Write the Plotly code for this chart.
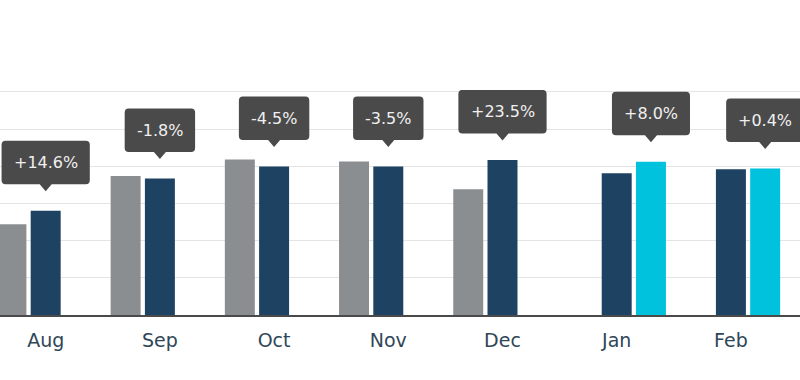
import plotly.graph_objects as go

# ---- data ----
months = ["Aug", "Sep", "Oct", "Nov", "Dec", "Jan", "Feb"]
prior_year = [244, 374, 418, 413, 338, None, None]      # grey bars
current_year = [280, 367, 399, 399, 417, 381, 392]      # navy bars
new_year = [None, None, None, None, None, 412, 394]     # cyan bars
changes = ["+14.6%", "-1.8%", "-4.5%", "-3.5%", "+23.5%", "+8.0%", "+0.4%"]

# ---- style ----
GREY = "#8b8e90"
NAVY = "#1e4262"
CYAN = "#00c2dc"
BOX = "#4a4a4a"
FONT = "DejaVu Sans"
BARGAP = 0.1
SLOT = (1 - BARGAP) / 3

xs = list(range(len(months)))

fig = go.Figure()
fig.add_bar(x=xs, y=prior_year, marker_color=GREY, marker_line_width=0, name="prior")
fig.add_bar(x=xs, y=current_year, marker_color=NAVY, marker_line_width=0, name="current")
fig.add_bar(x=xs, y=new_year, marker_color=CYAN, marker_line_width=0, name="new")

# approximate DejaVu Sans advance widths (em) for box sizing
CW = {"+": 0.838, "-": 0.361, ".": 0.318, "%": 0.950}
def text_w(s, size=16):
    return sum(CW.get(c, 0.636) for c in s) * size

shapes = []
annotations = []
TIP, BOT, TOP, R, HW = 19.5, 26.5, 70.0, 4.0, 6.0
for i, (c, n, t) in enumerate(zip(current_year, new_year, changes)):
    if n is not None:
        xa, ya = i + SLOT, n
    else:
        xa, ya = i, c
    w = text_w(t) + 24
    h = w / 2
    path = (
        f"M 0,{TIP} L {HW},{BOT} L {h-R},{BOT} Q {h},{BOT} {h},{BOT+R} "
        f"L {h},{TOP-R} Q {h},{TOP} {h-R},{TOP} L {-h+R},{TOP} Q {-h},{TOP} {-h},{TOP-R} "
        f"L {-h},{BOT+R} Q {-h},{BOT} {-h+R},{BOT} L {-HW},{BOT} Z"
    )
    shapes.append(dict(
        type="path", xref="x", yref="y", xsizemode="pixel", ysizemode="pixel",
        xanchor=xa, yanchor=ya, path=path, fillcolor=BOX, line_width=0, layer="above",
    ))
    annotations.append(dict(
        x=xa, y=ya, xref="x", yref="y", text=t, showarrow=False,
        yshift=(BOT + TOP) / 2, yanchor="middle", xanchor="center",
        font=dict(family=FONT, size=16, color="#f0f0f0"),
    ))

fig.update_layout(
    width=800, height=380,
    margin=dict(l=0, r=0, t=90, b=65),
    paper_bgcolor="white", plot_bgcolor="white",
    barmode="group", bargap=BARGAP, bargroupgap=0.125,
    showlegend=False,
    shapes=shapes, annotations=annotations,
    xaxis=dict(
        range=[-0.400, 6.605], tickvals=xs, ticktext=months,
        showgrid=False, zeroline=False,
        showline=True, linecolor="#4a4a4a", linewidth=1.5,
        ticks="", ticklabelstandoff=8,
        tickfont=dict(family=FONT, size=19, color="#2f4658"),
    ),
    yaxis=dict(
        range=[0, 605], dtick=100, showticklabels=False,
        showgrid=True, gridcolor="#e4e4e4", gridwidth=1, zeroline=False,
    ),
)

fig.write_html(
    "out.html",
    config={"displayModeBar": False, "staticPlot": True},
    post_script="document.body.style.margin='0';document.body.style.overflow='hidden';",
)
